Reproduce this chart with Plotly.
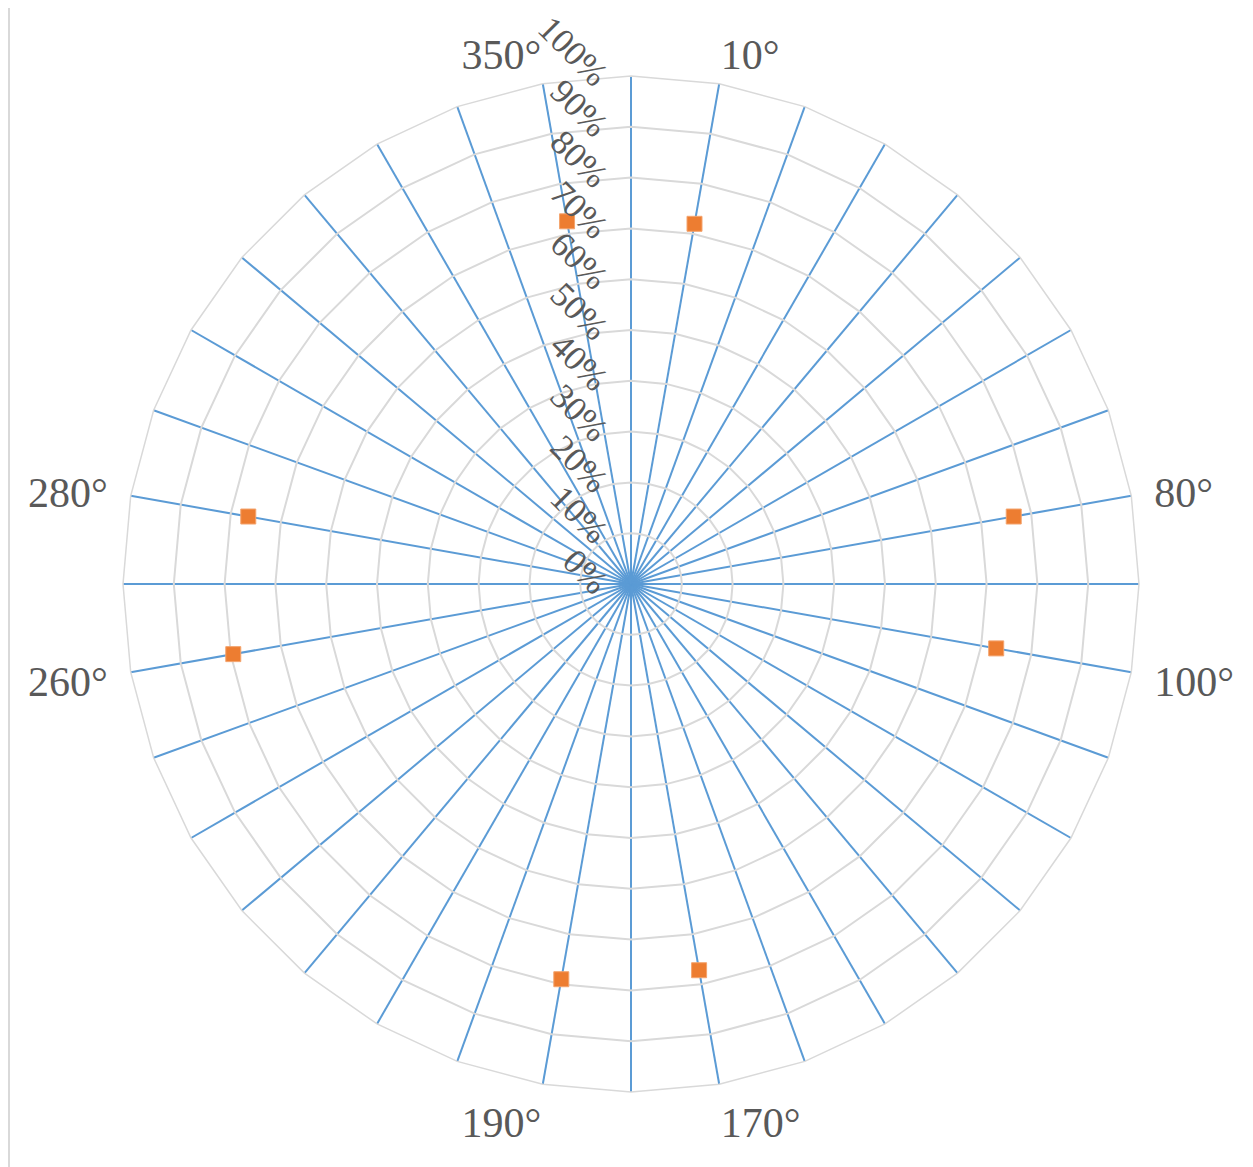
import plotly.graph_objects as go

# Data
spoke_categories = [f"{a}°" for a in range(0, 360, 10)]
shown_labels = ["10°", "80°", "100°", "170°", "190°", "260°", "280°", "350°"]
point_categories = ["10°", "80°", "100°", "170°", "190°", "260°", "280°", "350°"]
point_values = [0.72, 0.765, 0.73, 0.772, 0.79, 0.795, 0.765, 0.725]
radial_ticks = [i / 10 for i in range(11)]
radial_labels = [f"{i*10}%" for i in range(11)]

PAD = "\u00a0\u200a"


def pad_label(c):
    if c not in shown_labels:
        return ""
    a = int(c[:-1])
    if 30 < a < 150:
        return PAD + c
    if 210 < a < 330:
        return c + PAD
    return c


ticktext = [pad_label(c) for c in spoke_categories]

W, H = 1245, 1159
cx, cy, R = 623, 576, 508

fig = go.Figure()
fig.add_trace(go.Scatterpolar(
    r=point_values, theta=point_categories, mode="markers",
    marker=dict(symbol="square", size=15, color="#ED7D31",
                line=dict(width=1, color="#F4A46E")),
    showlegend=False, hoverinfo="skip",
))

fig.update_layout(
    width=W, height=H,
    margin=dict(l=0, r=0, t=0, b=0),
    paper_bgcolor="white",
    font=dict(family="Liberation Serif", color="#595959"),
    polar=dict(
        domain=dict(x=[(cx - R) / W, (cx + R) / W],
                    y=[(H - cy - R) / H, (H - cy + R) / H]),
        bgcolor="white",
        gridshape="linear",
        angularaxis=dict(
            type="category", categoryorder="array", categoryarray=spoke_categories,
            direction="clockwise", rotation=90,
            tickmode="array", tickvals=spoke_categories, ticktext=ticktext,
            ticks="", showline=True, linecolor="#D9D9D9", linewidth=1.5,
            gridcolor="#5B9BD5", gridwidth=1.5,
            tickfont=dict(size=42, family="Liberation Serif", color="#595959"),
        ),
        radialaxis=dict(
            range=[0, 1], angle=90, side="counterclockwise",
            tickmode="array", tickvals=radial_ticks, ticktext=radial_labels,
            ticks="", showline=False,
            gridcolor="#D9D9D9", gridwidth=1.5,
            tickangle=135,
            tickfont=dict(size=35, family="Liberation Serif", color="#595959"),
        ),
    ),
    shapes=[dict(type="line", xref="paper", yref="paper",
                 x0=1 / W, x1=1 / W, y0=0, y1=1,
                 line=dict(color="#D9D9D9", width=2))],
)

fig.write_html("out.html")
